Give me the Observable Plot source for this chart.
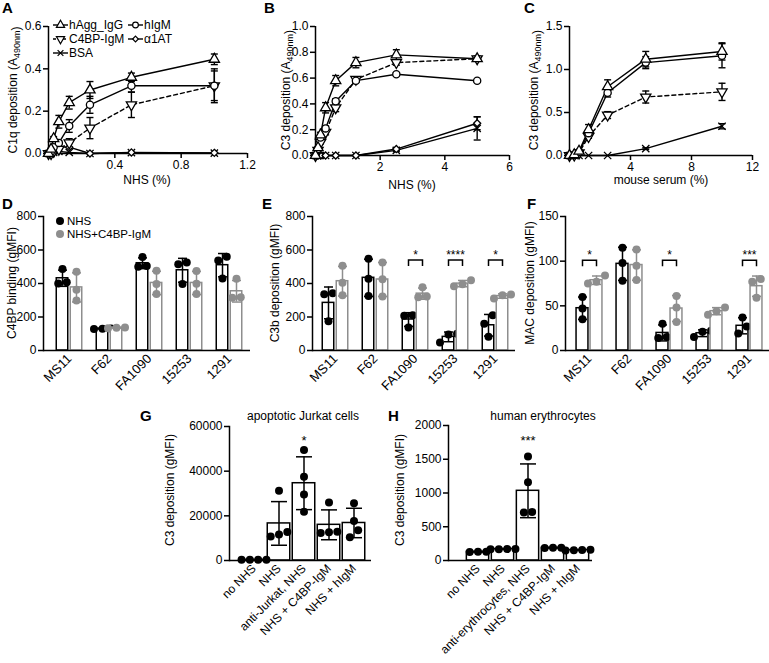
<!DOCTYPE html>
<html><head><meta charset="utf-8">
<script src="https://cdn.jsdelivr.net/npm/d3@7"></script>
<script src="https://cdn.jsdelivr.net/npm/@observablehq/plot@0.6"></script>
<style>
body{margin:0;background:#fff;}
#root{position:relative;width:769px;height:663px;overflow:hidden;background:#fff;}
.panel{position:absolute;}
.panel svg{overflow:visible;background:transparent;}
#overlay{position:absolute;left:0;top:0;pointer-events:none;overflow:visible;}
</style></head><body><div id="root"></div>
<script>
// ---------------- DATA ----------------
// Panels A–C: dose–response curves
const seriesNames = ["hAgg_IgG", "hIgM", "C4BP-IgM", "α1AT", "BSA"];

// A: C1q deposition vs NHS (%)
const nhsA = [0, 0.0156, 0.031, 0.0625, 0.125, 0.25, 0.5, 1];
const c1qHAggIgG    = [0, 0.02, 0.07, 0.15, 0.24, 0.30, 0.36, 0.445];
const c1qHAggIgGErr = [0, 0, 0.01, 0.03, 0.03, 0.04, 0.02, 0.025];
const c1qHIgM       = [0, 0.01, 0.03, 0.05, 0.13, 0.23, 0.32, 0.32];
const c1qHIgMErr    = [0, 0, 0, 0.01, 0.03, 0.04, 0.03, 0.07];
const c1qC4BPIgM    = [0, 0, 0.01, 0.02, 0.05, 0.12, 0.23, 0.32];
const c1qC4BPIgMErr = [0, 0, 0, 0.01, 0.02, 0.05, 0.06, 0.08];
const c1qA1AT       = [0, 0.01, 0.02, 0.03, 0.03, 0, 0.005, 0.003];
const c1qBSA        = [0, 0, 0.005, 0.01, 0.005, 0, 0.004, 0.002];

// B: C3 deposition vs NHS (%)
const nhsB = [0, 0.078, 0.156, 0.3125, 0.625, 1.25, 2.5, 5];
const c3HAggIgG    = [0, 0.06, 0.16, 0.37, 0.58, 0.72, 0.78, 0.75];
const c3HAggIgGErr = [0, 0.01, 0.02, 0.04, 0.04, 0.04, 0.04, 0.02];
const c3HIgM       = [0, 0.05, 0.14, 0.21, 0.42, 0.58, 0.63, 0.58];
const c3HIgMErr    = [0, 0, 0.01, 0.02, 0.02, 0.01, 0.01, 0.01];
const c3C4BPIgM    = [0, 0.04, 0.10, 0.18, 0.37, 0.59, 0.72, 0.75];
const c3C4BPIgMErr = [0, 0, 0.01, 0.02, 0.03, 0.02, 0.02, 0.02];
const c3A1AT       = [0, 0, 0, 0, 0, 0, 0.05, 0.25];
const c3A1ATErr    = [0, 0, 0, 0, 0, 0, 0.01, 0.05];
const c3BSA        = [0, 0, 0, 0, 0, 0, 0.04, 0.21];
const c3BSAErr     = [0, 0, 0, 0, 0, 0, 0.01, 0.09];

// C: C3 deposition vs mouse serum (%)
const mouseC = [0, 0.3125, 0.625, 1.25, 2.5, 5, 10];
const c3mHAggIgG    = [0, 0.01, 0.05, 0.30, 0.80, 1.12, 1.21];
const c3mHAggIgGErr = [0, 0, 0.01, 0.06, 0.08, 0.09, 0.10];
const c3mHIgM       = [0, 0.01, 0.04, 0.26, 0.73, 1.08, 1.16];
const c3mHIgMErr    = [0, 0, 0.01, 0.04, 0.05, 0.07, 0.14];
const c3mC4BPIgM    = [0, 0.005, 0.03, 0.22, 0.47, 0.68, 0.74];
const c3mC4BPIgMErr = [0, 0, 0.01, 0.02, 0.04, 0.07, 0.10];
const c3mBSA        = [0, 0, 0, 0, 0, 0.08, 0.34];
const c3mBSAErr     = [0, 0, 0, 0, 0, 0.01, 0.03];

// D–F: gonococcal strains, replicate values
const strains = ["MS11", "F62", "FA1090", "15253", "1291"];
const barSeries = ["NHS", "NHS+C4BP-IgM"];
const c4bpNHS     = [[487,407,400],[132,130,128],[558,505,500],[525,515,397],[560,538,430]];
const c4bpC4BPIgM = [[470,362,298],[136,138,133],[476,397,337],[475,398,337],[428,318,315]];
const c3bNHS      = [[342,336,175],[548,428,326],[210,207,138],[100,96,48],[210,160,82]];
const c3bC4BPIgM  = [[506,405,330],[525,425,322],[378,322,318],[420,395,383],[335,330,310]];
const macNHS      = [[60,47,35],[115,98,78],[30,15,14],[22,21,15],[37,27,19]];
const macC4BPIgM  = [[84,77,75],[113,95,79],[61,48,32],[48,44,40],[80,77,59]];
const sigE = [{group:"FA1090",label:"*",y:540},{group:"15253",label:"****",y:540},{group:"1291",label:"*",y:540}];
const sigF = [{group:"MS11",label:"*",y:101},{group:"FA1090",label:"*",y:101},{group:"1291",label:"***",y:101}];

// G–H
const jurkatConds = ["no NHS", "NHS", "anti-Jurkat, NHS", "NHS + C4BP-IgM", "NHS + hIgM"];
const jurkatC3 = [[320,280,300,310],[31200,12800,11600,10800],[49500,37500,29600,21800],[26000,12300,12900,12700],[25600,17700,13500,10400]];
const erythConds = ["no NHS", "NHS", "anti-erythrocytes, NHS", "NHS + C4BP-IgM", "NHS + hIgM"];
const erythC3 = [[130,125,130],[165,170,168,172],[1540,1160,720,710],[185,188,190],[150,155,158,152]];
const starsG = [{group:"anti-Jurkat, NHS", label:"*", y:53500}];
const starsH = [{group:"anti-erythrocytes, NHS", label:"***", y:1770}];

// ---------------- STYLE ----------------
const FONT = '"Liberation Sans", Arial, Helvetica, sans-serif';
const GRAY = "#8e8e8e";
const triangleDown = {
  draw(ctx, size) {
    const y = -Math.sqrt(size / (Math.sqrt(3) * 3));
    ctx.moveTo(0, -y * 2);
    ctx.lineTo(-Math.sqrt(3) * y, y);
    ctx.lineTo(Math.sqrt(3) * y, y);
    ctx.closePath();
  }
};
const capSym = (hw) => ({draw(ctx){ ctx.moveTo(-hw,0); ctx.lineTo(hw,0); }});
const bracketSym = (hw, h) => ({draw(ctx){ ctx.moveTo(-hw,h); ctx.lineTo(-hw,0); ctx.lineTo(hw,0); ctx.lineTo(hw,h); }});
const SERIES_STYLE = {
  "hAgg_IgG": {symbol: "triangle", d3sym: d3.symbolTriangle, r: 3.8, dash: null},
  "hIgM":     {symbol: "circle", d3sym: d3.symbolCircle, r: 3.6, dash: null},
  "C4BP-IgM": {symbol: triangleDown, d3sym: triangleDown, r: 3.8, dash: "4,3"},
  "α1AT":     {symbol: "diamond2", d3sym: d3.symbolDiamond2, r: 3.2, dash: null},
  "BSA":      {symbol: "times", d3sym: d3.symbolTimes, r: 3.4, dash: null}
};
const plotStyle = {fontSize: "12px", fontFamily: FONT, background: "transparent", overflow: "visible", color: "black"};

const root = document.getElementById("root");
function place(el, left, top, w) {
  const div = document.createElement("div");
  div.className = "panel";
  div.style.left = left + "px"; div.style.top = top + "px"; div.style.width = w + "px";
  div.appendChild(el); root.appendChild(div);
}

// ---------------- LINE PANELS ----------------
function linePanel(p) {
  const marks = [
    Plot.ruleY([0], {stroke: "black", strokeWidth: 1.5}),
    Plot.ruleX([0], {stroke: "black", strokeWidth: 1.5}),
    Plot.axisX({ticks: p.xTicks, tickFormat: p.xFormat, tickSize: 5, tickPadding: 2, strokeWidth: 1.5, label: null}),
    Plot.axisY({ticks: p.yTicks, tickFormat: p.yFormat, tickSize: 5, tickPadding: 2, strokeWidth: 1.5, label: null})
  ];
  const rowsOf = s => p.x.map((x, i) => ({x, y: s.y[i], e: s.err ? s.err[i] : 0}));
  for (const s of p.series) {
    const st = SERIES_STYLE[s.name];
    const rows = rowsOf(s);
    marks.push(Plot.line(rows, {x: "x", y: "y", stroke: "black", strokeWidth: 1.4, strokeDasharray: st.dash}));
    const er = rows.filter(d => d.e > 0);
    marks.push(Plot.ruleX(er, {x: "x", y1: d => Math.max(0, d.y - d.e), y2: d => d.y + d.e, stroke: "black", strokeWidth: 1.4}));
    marks.push(Plot.dot(er, {x: "x", y: d => d.y + d.e, symbol: capSym(3.5), fill: "none", stroke: "black", strokeWidth: 1.4}));
    marks.push(Plot.dot(er.filter(d => d.y - d.e > 0), {x: "x", y: d => d.y - d.e, symbol: capSym(3.5), fill: "none", stroke: "black", strokeWidth: 1.4}));
  }
  for (const s of p.series) {
    const st = SERIES_STYLE[s.name];
    marks.push(Plot.dot(rowsOf(s), {x: "x", y: "y", symbol: st.symbol, r: st.r, fill: "white", stroke: "black", strokeWidth: 1.3}));
  }
  return Plot.plot({
    width: p.width, height: p.height,
    marginLeft: p.ml, marginRight: p.mr, marginTop: p.mt, marginBottom: p.mb,
    x: {domain: p.xDomain}, y: {domain: p.yDomain},
    style: plotStyle, marks
  });
}

place(linePanel({
  width: 255, height: 200, ml: 48, mr: 8, mt: 26, mb: 47,
  x: nhsA, xDomain: [0, 1.2], yDomain: [0, 0.6],
  xTicks: [0.4, 0.8, 1.2], xFormat: ".1f", yTicks: [0, 0.2, 0.4, 0.6], yFormat: ".1f",
  series: [
    {name: "BSA", y: c1qBSA}, {name: "α1AT", y: c1qA1AT},
    {name: "C4BP-IgM", y: c1qC4BPIgM, err: c1qC4BPIgMErr},
    {name: "hIgM", y: c1qHIgM, err: c1qHIgMErr},
    {name: "hAgg_IgG", y: c1qHAggIgG, err: c1qHAggIgGErr}
  ]
}), 0, 0, 255);

place(linePanel({
  width: 258, height: 200, ml: 60, mr: 4, mt: 26, mb: 45,
  x: nhsB, xDomain: [0, 6], yDomain: [0, 1],
  xTicks: [2, 4, 6], xFormat: "d", yTicks: [0, 0.2, 0.4, 0.6, 0.8, 1.0], yFormat: ".1f",
  series: [
    {name: "BSA", y: c3BSA, err: c3BSAErr}, {name: "α1AT", y: c3A1AT, err: c3A1ATErr},
    {name: "C4BP-IgM", y: c3C4BPIgM, err: c3C4BPIgMErr},
    {name: "hIgM", y: c3HIgM, err: c3HIgMErr},
    {name: "hAgg_IgG", y: c3HAggIgG, err: c3HAggIgGErr}
  ]
}), 255, 0, 258);

place(linePanel({
  width: 256, height: 200, ml: 56, mr: 17, mt: 26, mb: 45,
  x: mouseC, xDomain: [0, 12], yDomain: [0, 1.5],
  xTicks: [4, 8, 12], xFormat: "d", yTicks: [0, 0.5, 1.0, 1.5], yFormat: ".1f",
  series: [
    {name: "BSA", y: c3mBSA, err: c3mBSAErr},
    {name: "C4BP-IgM", y: c3mC4BPIgM, err: c3mC4BPIgMErr},
    {name: "hIgM", y: c3mHIgM, err: c3mHIgMErr},
    {name: "hAgg_IgG", y: c3mHAggIgG, err: c3mHAggIgGErr}
  ]
}), 513, 0, 256);

// ---------------- BAR PANELS ----------------
function swarm(vals, yPix, gap) {
  const idx = d3.range(vals.length).sort((a, b) => vals[a] - vals[b]);
  const out = new Array(vals.length).fill(0);
  const clusters = [];
  let cur = [idx[0]];
  for (let k = 1; k < idx.length; k++) {
    const prev = cur[cur.length - 1];
    if (Math.abs(yPix(vals[idx[k]]) - yPix(vals[prev])) < gap) cur.push(idx[k]);
    else { clusters.push(cur); cur = [idx[k]]; }
  }
  clusters.push(cur);
  for (const c of clusters) c.forEach((i, j) => out[i] = (j - (c.length - 1) / 2) * gap);
  return out;
}

function barPanel(p) {
  const n = p.groups.length;
  const bw = (p.xRange[1] - p.xRange[0]) / n;
  const yPix = d3.scaleLinear(p.yDomain, [p.height - p.mb, p.mt]);
  const marks = [
    Plot.axisX({tickRotate: -45, tickSize: 0, tickPadding: 6, label: null, fontSize: p.xFont || 12}),
    Plot.axisY({ticks: p.yTicks, tickFormat: "d", tickSize: 5, tickPadding: 2, strokeWidth: 1.5, label: null})
  ];
  for (const s of p.series) {
    const summary = p.groups.map((g, i) => ({g, mean: d3.mean(s.values[i]), sd: d3.deviation(s.values[i]) || 0}));
    marks.push(Plot.barY(summary, {x: "g", y: "mean", fill: "white", stroke: s.color, strokeWidth: 1.5,
      insetLeft: bw / 2 + s.offset - p.half, insetRight: bw / 2 - s.offset - p.half}));
    marks.push(Plot.ruleX(summary, {x: "g", y1: d => d.mean - d.sd, y2: d => d.mean + d.sd, dx: s.offset, stroke: s.color, strokeWidth: 1.5}));
    marks.push(Plot.dot(summary, {x: "g", y: d => d.mean + d.sd, dx: s.offset, symbol: capSym(p.cap), fill: "none", stroke: s.color, strokeWidth: 1.5}));
    marks.push(Plot.dot(summary, {x: "g", y: d => d.mean - d.sd, dx: s.offset, symbol: capSym(p.cap), fill: "none", stroke: s.color, strokeWidth: 1.5}));
    const rows = [];
    p.groups.forEach((g, i) => {
      const dxs = swarm(s.values[i], yPix, p.gap);
      s.values[i].forEach((v, j) => rows.push({g, v, dx: dxs[j]}));
    });
    for (const d of [...new Set(rows.map(r => r.dx))]) {
      marks.push(Plot.dot(rows.filter(r => r.dx === d), {x: "g", y: "v", r: 4, fill: s.color, stroke: "none", dx: s.offset + d}));
    }
  }
  if (p.sig) {
    marks.push(Plot.dot(p.sig, {x: "group", y: "y", symbol: bracketSym(7, 6), fill: "none", stroke: "black", strokeWidth: 1.5}));
    marks.push(Plot.text(p.sig, {x: "group", y: "y", text: "label", dy: -5, fontSize: 12}));
  }
  if (p.stars) {
    marks.push(Plot.text(p.stars, {x: "group", y: "y", text: "label", fontSize: 13}));
  }
  marks.push(Plot.ruleY([0], {stroke: "black", strokeWidth: 1.5}));
  marks.push(Plot.frame({anchor: "left", stroke: "black", strokeWidth: 1.5}));
  return Plot.plot({
    width: p.width, height: p.height,
    marginLeft: p.ml, marginRight: p.mr, marginTop: p.mt, marginBottom: p.mb,
    x: {type: "band", domain: p.groups, range: p.xRange, padding: 0},
    y: {domain: p.yDomain},
    style: plotStyle, marks
  });
}

const pairSeries = (a, b) => [
  {name: barSeries[0], values: a, color: "black", offset: -7},
  {name: barSeries[1], values: b, color: GRAY, offset: 7}
];

place(barPanel({width: 255, height: 215, ml: 43, mr: 5, mt: 16, mb: 65, groups: strains,
  xRange: [47.75, 250.25], yDomain: [0, 800], yTicks: [0, 200, 400, 600, 800], xFont: 13,
  half: 6, cap: 4.5, gap: 8.5, series: pairSeries(c4bpNHS, c4bpC4BPIgM)}), 0, 200, 255);
place(barPanel({width: 262, height: 215, ml: 57, mr: 2, mt: 16, mb: 65, groups: strains,
  xRange: [58.25, 260.75], yDomain: [0, 800], yTicks: [0, 200, 400, 600, 800], xFont: 13,
  half: 6, cap: 4.5, gap: 8.5, series: pairSeries(c3bNHS, c3bC4BPIgM), sig: sigE}), 255, 200, 262);
place(barPanel({width: 254, height: 215, ml: 50, mr: 0, mt: 16, mb: 65, groups: strains,
  xRange: [53.9, 254.4], yDomain: [0, 150], yTicks: [0, 50, 100, 150], xFont: 13,
  half: 6, cap: 4.5, gap: 8.5, series: pairSeries(macNHS, macC4BPIgM), sig: sigF}), 515, 200, 254);

place(barPanel({width: 250, height: 258, ml: 99, mr: 9, mt: 21, mb: 103, groups: jurkatConds,
  xRange: [110.05, 237.55], yDomain: [0, 60000], yTicks: [0, 20000, 40000, 60000],
  half: 11.5, cap: 8, gap: 8.3, stars: starsG,
  series: [{name: "C3", values: jurkatC3, color: "black", offset: 0}]}), 130, 405, 250);
place(barPanel({width: 220, height: 258, ml: 68, mr: 8, mt: 20, mb: 103, groups: erythConds,
  xRange: [83.15, 211.65], yDomain: [0, 2000], yTicks: [0, 500, 1000, 1500, 2000],
  half: 11.5, cap: 8, gap: 8.3, stars: starsH,
  series: [{name: "C3", values: erythC3, color: "black", offset: 0}]}), 380, 405, 220);

// ---------------- TEXT OVERLAY ----------------
const ov = d3.select(root).append("svg").attr("id", "overlay").attr("width", 769).attr("height", 663);
const T = ov.append("g").attr("font-family", FONT).attr("fill", "black");
function letter(t, x, y) { T.append("text").attr("x", x).attr("y", y).attr("font-size", 15).attr("font-weight", "bold").text(t); }
function yTitle(parts, cx, cy) {
  const t = T.append("text").attr("transform", `translate(${cx + 4},${cy}) rotate(-90)`).attr("text-anchor", "middle").attr("font-size", 12);
  for (const p of parts) {
    if (typeof p === "string") t.append("tspan").text(p);
    else { t.append("tspan").attr("font-size", 9).attr("dy", 3).text(p.sub); t.append("tspan").attr("dy", -3).text(""); }
  }
}
function xTitle(s, cx, y) { T.append("text").attr("x", cx).attr("y", y).attr("text-anchor", "middle").attr("font-size", 12).text(s); }

letter("A", 2, 13); letter("B", 264, 13); letter("C", 524, 13);
letter("D", 2, 209); letter("E", 262, 209); letter("F", 527, 209);
letter("G", 140, 421); letter("H", 388, 421);

yTitle(["C1q deposition (A", {sub: "490nm"}, ")"], 13, 90);
yTitle(["C3 deposition (A", {sub: "490nm"}, ")"], 286, 90);
yTitle(["C3 deposition (A", {sub: "490nm"}, ")"], 534, 90);
yTitle(["C4BP binding (gMFI)"], 12, 283);
yTitle(["C3b deposition (gMFI)"], 275, 283);
yTitle(["MAC deposition (gMFI)"], 530, 283);
yTitle(["C3 deposition (gMFI)"], 170, 490);
yTitle(["C3 deposition (gMFI)"], 400, 490);

xTitle("NHS (%)", 147, 184);
xTitle("NHS (%)", 412, 189);
xTitle("mouse serum (%)", 661, 184);
xTitle("apoptotic Jurkat cells", 303, 420);
xTitle("human erythrocytes", 543, 420);

// Legend A
const legendA = [
  {name: seriesNames[0], col: 0, row: 0}, {name: seriesNames[1], col: 1, row: 0},
  {name: seriesNames[2], col: 0, row: 1}, {name: seriesNames[3], col: 1, row: 1},
  {name: seriesNames[4], col: 0, row: 2}
];
for (const L of legendA) {
  const st = SERIES_STYLE[L.name];
  const x0 = L.col ? 128 : 53, y = 25 + L.row * 14;
  T.append("line").attr("x1", x0).attr("x2", x0 + 15).attr("y1", y).attr("y2", y).attr("stroke", "black").attr("stroke-width", 1.4).attr("stroke-dasharray", st.dash ? "3,2" : null);
  const isStroke = st.d3sym === d3.symbolTimes;
  const rr = st.r * 0.8;
  T.append("path").attr("transform", `translate(${x0 + 7.5},${y})`).attr("d", d3.symbol(st.d3sym, rr * rr * Math.PI)())
    .attr("fill", isStroke ? "none" : "white").attr("stroke", "black").attr("stroke-width", 1.2);
  T.append("text").attr("x", x0 + 16).attr("y", y).attr("dy", "0.35em").attr("font-size", 12).text(L.name);
}
// Legend D
barSeries.forEach((name, i) => {
  const y = 221 + i * 13;
  T.append("circle").attr("cx", 60).attr("cy", y).attr("r", 4).attr("fill", i ? GRAY : "black");
  T.append("text").attr("x", 67).attr("y", y).attr("dy", "0.35em").attr("font-size", 11.5).text(name);
});
</script></body></html>
